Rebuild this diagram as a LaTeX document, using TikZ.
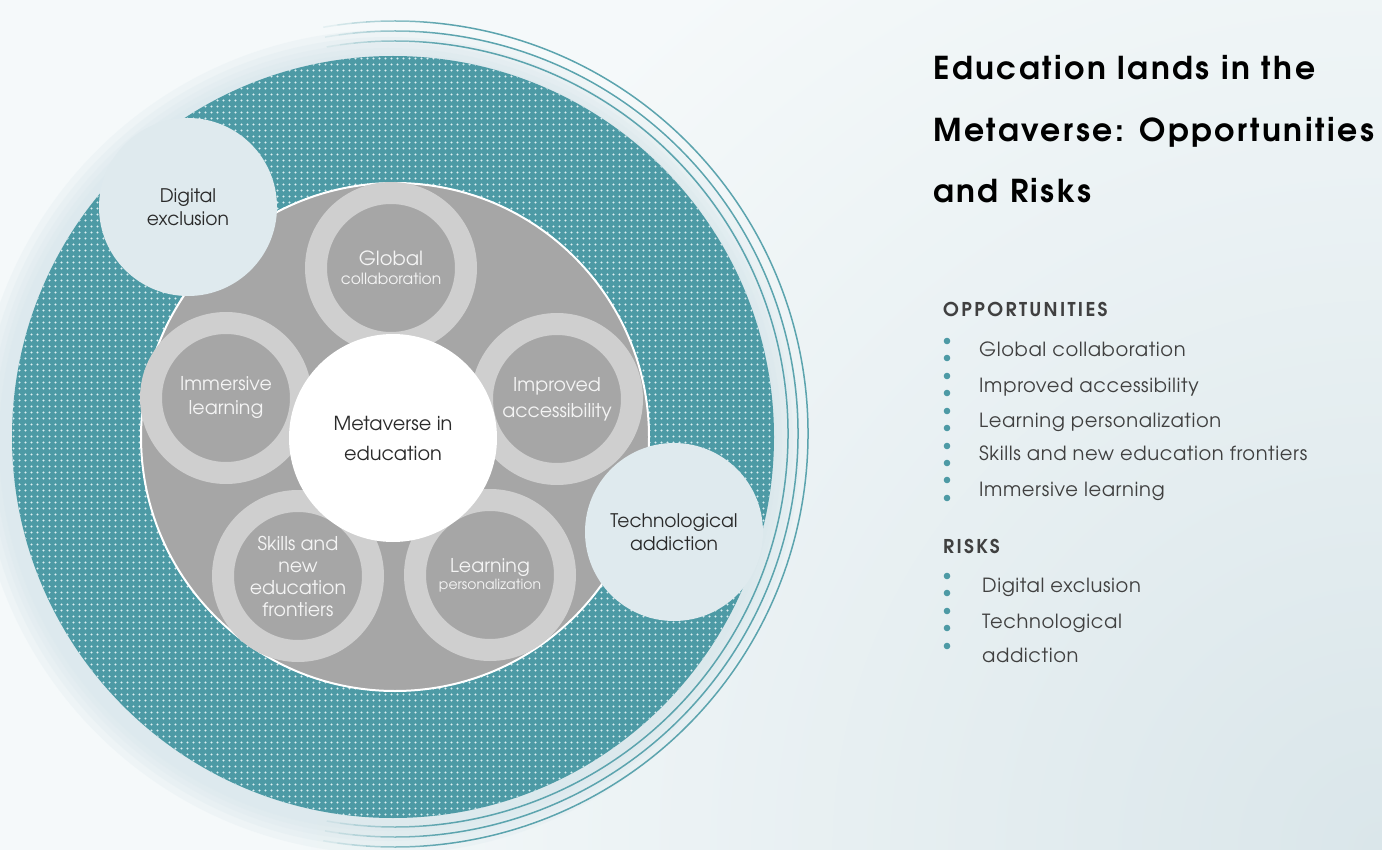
\documentclass[tikz,border=0pt]{standalone}
\usepackage{fontspec}
\setmainfont{TeX Gyre Adventor}
\usetikzlibrary{patterns.meta}
\definecolor{bgA}{HTML}{F5F9FA}
\definecolor{bgB}{HTML}{DAE6EA}
\definecolor{tealA}{HTML}{4D9AA5}
\definecolor{dotC}{HTML}{DCEEF1}
\definecolor{lineC}{HTML}{5CA4AE}
\definecolor{glowC}{HTML}{D6E6EB}
\definecolor{paleC}{HTML}{DFEAEE}
\definecolor{gdisk}{HTML}{A6A6A6}
\definecolor{gring}{HTML}{CFCFCF}
\definecolor{darkT}{HTML}{2A2A2A}
\definecolor{listT}{HTML}{404040}
\definecolor{ringT}{HTML}{F4F4F4}
\tikzdeclarepattern{name=tealdots, type=uncolored,
  bounding box={(0pt,0pt) and (5.5pt,5.5pt)}, tile size={(5.5pt,5.5pt)},
  code={\fill (2.75pt,2.75pt) circle (1.25pt);}}
\tikzset{
  palecirc/.style={circle, fill=paleC, minimum size=178pt, inner sep=0pt, align=center, text=darkT, font=\fontsize{18.7}{23}\selectfont},
  ringcirc/.style={circle, draw=gring, line width=22pt, fill=gdisk, minimum size=150pt, inner sep=0pt, align=center, text=ringT},
  hubcirc/.style={circle, fill=white, minimum size=208pt, inner sep=0pt, align=center, text=darkT, font=\fontsize{19.3}{30}\selectfont},
  listitem/.style={anchor=base west, inner sep=0pt, text=listT, font=\fontsize{19.5}{19.5}\selectfont\addfontfeatures{LetterSpace=3}},
  heading/.style={anchor=base west, inner sep=0pt, text=listT, font=\fontsize{19}{19}\selectfont\bfseries\addfontfeatures{LetterSpace=12}},
  titleline/.style={anchor=base west, inner sep=0pt, text=black, font=\fontsize{31.5}{31.5}\selectfont\bfseries\addfontfeatures{LetterSpace=8}},
  ringline/.style={lineC, line width=1.5pt},
}
\begin{document}
\begin{tikzpicture}[x=1pt,y=-1pt]
\useasboundingbox (0,0) rectangle (1382,850);
\fill[bgA] (0,0) rectangle (1382,850);
\begin{scope}
  \clip (0,0) rectangle (1382,850);
  \shade[inner color=bgB, outer color=bgA] (1382,850) circle (1100pt);
\end{scope}
% soft glow round the disk
\foreach \r in {412,405,399,394,389} \fill[glowC, opacity=0.22] (388,442) circle (\r pt);
% thin rings on the right
\coordinate (rc) at (395,434);
\foreach \r in {393,403,413} {
  \draw[ringline] (rc) ++(84:\r pt) arc[start angle=84, end angle=-84, radius=\r pt];
  \foreach \a [evaluate=\a as \o using (100-\a)/17] in {84,86,...,98} {
    \draw[ringline, opacity=\o] (rc) ++(\a+2:\r pt) arc[start angle=\a+2, end angle=\a, radius=\r pt];
    \draw[ringline, opacity=\o] (rc) ++(-\a:\r pt) arc[start angle=-\a, end angle=-\a-2, radius=\r pt];
  }
}
% dotted teal disk
\fill[tealA] (393,437) circle (381pt);
\fill[pattern=tealdots, pattern color=dotC] (393,437) circle (381pt);
% grey disk
\draw[white, line width=2pt, fill=gdisk] (395,437) circle (254pt);
% ring circles
\node[ringcirc, font=\fontsize{19.5}{19.5}\selectfont] (glob) at (391,268) {Global\\{\fontsize{15.5}{15.5}\selectfont collaboration}};
\node[ringcirc, font=\fontsize{19}{26}\selectfont] (impr) at (557,399) {Improved\\accessibility};
\node[ringcirc, font=\fontsize{19}{17}\selectfont] (lear) at (490,575) {Learning\\{\fontsize{14}{14}\selectfont personalization}};
\node[ringcirc, font=\fontsize{19}{22}\selectfont] (skil) at (298,576) {Skills and\\new\\education\\frontiers};
\node[ringcirc, font=\fontsize{19}{24}\selectfont] (imme) at (226,398) {Immersive\\learning};
% hub
\node[hubcirc] (hub) at (393,438) {Metaverse in\\education};
% risk circles
\node[palecirc] (digi) at (188,207) {Digital\\exclusion};
\node[palecirc] (tech) at (674,532) {Technological\\addiction};
% title
\node[titleline] (t1) at (933,80) {Education lands in the};
\node[titleline] (t2) at (933,142) {Metaverse: Opportunities};
\node[titleline] (t3) at (933,203) {and Risks};
% lists
\node[heading] (opp) at (943,317) {OPPORTUNITIES};
\node[listitem] (o1) at (979,357) {Global collaboration};
\node[listitem] (o2) at (979,392) {Improved accessibility};
\node[listitem] (o3) at (979,427) {Learning personalization};
\node[listitem] (o4) at (979,460) {Skills and new education frontiers};
\node[listitem] (o5) at (979,496) {Immersive learning};
\node[heading] (risk) at (943,553) {RISKS};
\node[listitem] (r1) at (982,592) {Digital exclusion};
\node[listitem] (r2) at (982,628) {Technological};
\node[listitem] (r3) at (982,662) {addiction};
\foreach \y in {341,358,376,393,411,428,446,463,480,498} \fill[tealA] (947,\y) circle (3.3pt);
\foreach \y in {576,593,611,628,646} \fill[tealA] (947,\y) circle (3.3pt);
\end{tikzpicture}
\end{document}
